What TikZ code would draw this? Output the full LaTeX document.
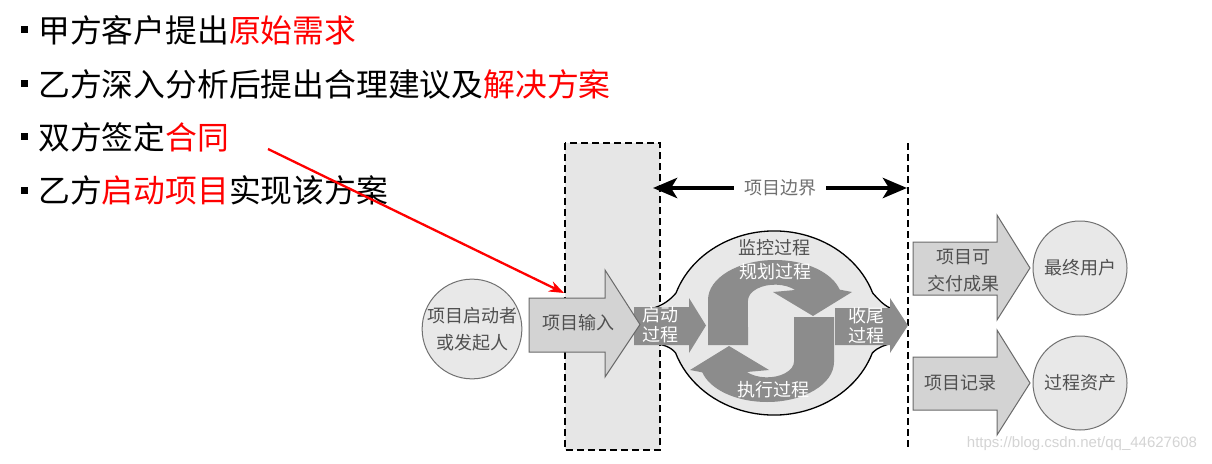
\documentclass[tikz,border=0pt]{standalone}
\usepackage{fontspec}
\setmainfont{Noto Sans CJK SC}
\newfontfamily\wmfont{Liberation Sans}
\usetikzlibrary{arrows.meta}
\definecolor{rectfill}{HTML}{E6E6E6}
\definecolor{blobfill}{HTML}{E8E8E8}
\definecolor{circfill}{HTML}{E8E8E8}
\definecolor{circborder}{HTML}{707070}
\definecolor{arrlight}{HTML}{D3D3D3}
\definecolor{arrborder}{HTML}{6A6A6A}
\definecolor{arrdark}{HTML}{8C8C8C}
\definecolor{labelgray}{HTML}{505050}
\definecolor{boundgray}{HTML}{707070}
\definecolor{wmgray}{HTML}{D4D4D4}
\tikzset{
  bul/.style={anchor=west, inner sep=0pt, font=\fontsize{31.8}{32}\selectfont},
  lbl/.style={font=\fontsize{18}{27}\selectfont, text=labelgray, align=center, inner sep=0pt},
  wlbl/.style={font=\fontsize{18}{20}\selectfont, text=white, align=center, inner sep=0pt},
  lightarr/.style={fill=arrlight, draw=arrborder, line width=1pt, line join=miter},
  darkarr/.style={fill=arrdark},
  circ/.style={circle, fill=circfill, draw=circborder, line width=1pt, minimum size=94pt, inner sep=0pt,
    font=\fontsize{18}{27}\selectfont, text=labelgray, align=center},
  dashline/.style={dash pattern=on 7pt off 4pt, line width=1.8pt},
  boundarr/.style={line width=4.5pt, -{Stealth[length=24pt, width=20pt, inset=6pt]}},
}
\begin{document}
\begin{tikzpicture}[x=1pt, y=-1pt]
\useasboundingbox (0,0) rectangle (1212,463);
\fill[white] (0,0) rectangle (1212,463);

% bullet list
\fill (21,26) rectangle (28,33);
\fill (21,80) rectangle (28,87);
\fill (21,133) rectangle (28,140);
\fill (21,187) rectangle (28,194);
\node[bul] (l1) at (38,30) {甲方客户提出\textcolor{red}{原始需求}};
\node[bul] (l2) at (38,84) {乙方深入分析后提出合理建议及\textcolor{red}{解决方案}};
\node[bul] (l3) at (38,137) {双方签定\textcolor{red}{合同}};
\node[bul] (l4) at (38,190) {乙方\textcolor{red}{启动项目}实现该方案};

% boundary region
\draw[dashline, fill=rectfill] (565,143) rectangle (660,450);
\draw[dashline] (908,143) -- (908,450);

\node[font=\fontsize{18}{20}\selectfont, text=boundgray, inner sep=0pt] (bound) at (780,188) {项目边界};
\coordinate (bl) at (653,188);
\coordinate (br) at (907,188);
\draw[boundarr] ([xshift=-10pt]bound.west) -- (bl);
\draw[boundarr] ([xshift=10pt]bound.east) -- (br);

% blob
\draw[fill=blobfill, line width=1.3pt]
  (650,309) .. controls (663,306) and (671,299) .. (676,293)
  arc[start angle=199, end angle=341, x radius=104, y radius=92]
  .. controls (878,299) and (885,307) .. (893,309)
  -- (893,343)
  .. controls (885,345) and (878,347) .. (872.3,353)
  arc[start angle=19, end angle=161, x radius=104, y radius=92]
  .. controls (671,347) and (663,344) .. (650,343) -- cycle;

% inner S arrows
\fill[darkarr] (748,345) -- (708,345) -- (708,300)
  arc[start angle=180, end angle=345, x radius=67, y radius=40]
  -- (852,292) -- (813,316) -- (773,292) -- (795.1,290)
  arc[start angle=318.2, end angle=180, x radius=27, y radius=16] -- cycle;
\begin{scope}[rotate around={180:(771,331)}]
\fill[darkarr] (748,345) -- (708,345) -- (708,300)
  arc[start angle=180, end angle=345, x radius=67, y radius=40]
  -- (852,292) -- (813,316) -- (773,292) -- (795.1,290)
  arc[start angle=318.2, end angle=180, x radius=27, y radius=16] -- cycle;
\end{scope}

% start and close arrows
\fill[darkarr] (634,307) -- (689,307) -- (689,298) -- (706,325.5) -- (689,353) -- (689,345) -- (634,345) -- cycle;
\fill[darkarr] (835,308) -- (890,308) -- (890,298) -- (908,325.5) -- (890,353) -- (890,345) -- (835,345) -- cycle;

\node[lbl] (mon) at (774,248) {监控过程};
\node[wlbl] (plan) at (775,272) {规划过程};
\node[wlbl] (exec) at (773,390) {执行过程};
\node[wlbl] (init) at (660,325) {启动\\过程};
\node[wlbl] (close) at (866,326) {收尾\\过程};

% input arrow
\draw[lightarr] (529,298) -- (605,298) -- (605,270) -- (640,324.5) -- (605,377) -- (605,352) -- (529,352) -- cycle;
\node[lbl] (inp) at (578,323) {项目输入};

% sponsor circle
\node[circ] (spons) at (472,329) {项目启动者\\或发起人};

% output arrows
\draw[lightarr] (913,242) -- (997,242) -- (997,215) -- (1030,268) -- (997,320) -- (997,295) -- (913,295) -- cycle;
\node[lbl] (deliv) at (963,271) {项目可\\交付成果};
\draw[lightarr] (913,357) -- (997,357) -- (997,330) -- (1030,383) -- (997,435) -- (997,410) -- (913,410) -- cycle;
\node[lbl] (rec) at (960,383) {项目记录};

\node[circ] (user) at (1080,268) {最终用户};
\node[circ] (asset) at (1080,383) {过程资产};

% red arrow
\coordinate (rs) at (268,149);
\coordinate (re) at (564,293);
\draw[red, line width=2.3pt, -{Stealth[length=15pt, width=11pt]}] (rs) -- (re);

\node[font=\wmfont\fontsize{15}{16}\selectfont, text=wmgray, inner sep=0pt] (wm) at (1082,444) {https://blog.csdn.net/qq\_44627608};
\end{tikzpicture}
\end{document}
